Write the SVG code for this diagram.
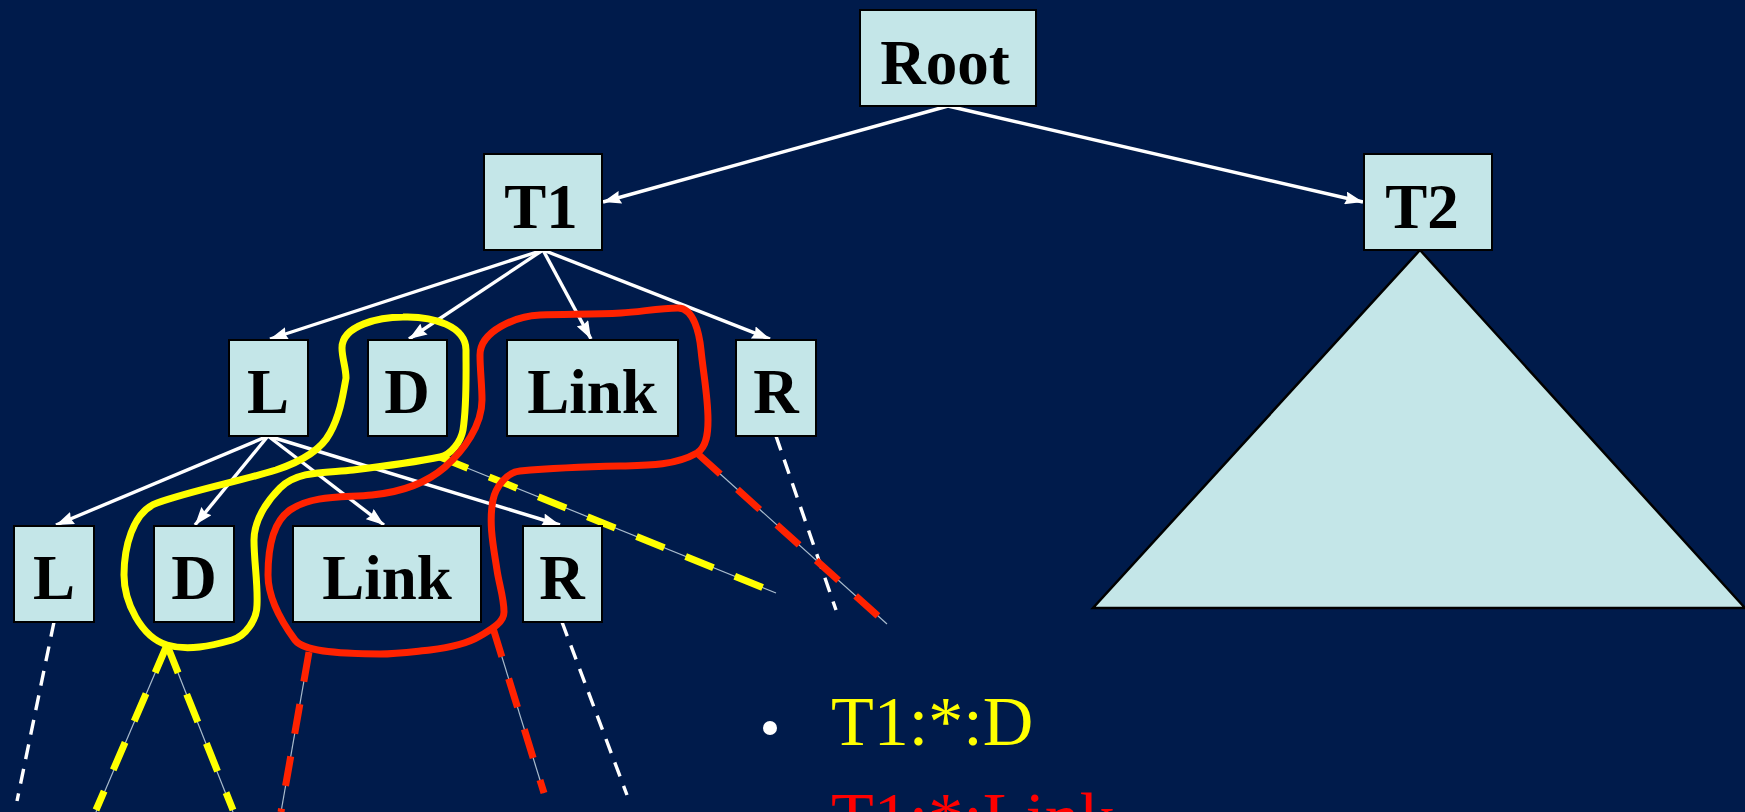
<svg xmlns="http://www.w3.org/2000/svg" width="1745" height="812" viewBox="0 0 1745 812">
  <defs>
    <marker id="arrow" viewBox="0 0 18 13" refX="18" refY="6.5" markerWidth="18" markerHeight="13" markerUnits="userSpaceOnUse" orient="auto">
      <path d="M0,0 L18,6.5 L0,13 L2,6.5 Z" fill="#ffffff"/>
    </marker>
    <style>
      .box { fill: #c4e6e8; stroke: #000000; stroke-width: 2; }
      .lbl { font-family: "Liberation Serif", "Times New Roman", serif; font-weight: bold; font-size: 63px; fill: #000000; text-anchor: middle; }
      .edge { stroke: #ffffff; stroke-width: 3.4; fill: none; marker-end: url(#arrow); }
      .wdash { stroke: #ffffff; stroke-width: 3.4; fill: none; stroke-dasharray: 15 10; }
      .thin { stroke: #a9bccd; stroke-width: 1.2; fill: none; }
      .ydash { stroke: #ffff00; stroke-width: 7; fill: none; stroke-dasharray: 30 23; }
      .rdash { stroke: #ff2200; stroke-width: 7; fill: none; stroke-dasharray: 30 23; }
      .yloop { stroke: #ffff00; stroke-width: 7; fill: none; }
      .rloop { stroke: #ff2200; stroke-width: 7; fill: none; }
      .note { font-family: "Liberation Serif", "Times New Roman", serif; font-size: 70px; }
    </style>
  </defs>

  <rect x="0" y="0" width="1745" height="812" fill="#001b4b"/>

  <!-- subtree below T2 -->
  <polygon id="t2-subtree" points="1420,250 1093,608 1745,608" fill="#c4e6e8" stroke="#000000" stroke-width="2.5"/>

  <!-- tree edges -->
  <g id="connectors">
    <line class="edge" x1="948" y1="106" x2="603" y2="202"/>
    <line class="edge" x1="948" y1="106" x2="1363" y2="202"/>
    <line class="edge" x1="543" y1="250" x2="270" y2="339"/>
    <line class="edge" x1="543" y1="250" x2="409" y2="339"/>
    <line class="edge" x1="543" y1="250" x2="591" y2="339"/>
    <line class="edge" x1="543" y1="250" x2="770" y2="339"/>
    <line class="edge" x1="268" y1="436" x2="56" y2="525"/>
    <line class="edge" x1="268" y1="436" x2="195" y2="525"/>
    <line class="edge" x1="268" y1="436" x2="384" y2="525"/>
    <line class="edge" x1="268" y1="436" x2="560" y2="525"/>

    <!-- open branches continuing below the drawn nodes -->
    <line class="wdash" x1="54" y1="622" x2="17" y2="801"/>
    <line class="wdash" x1="562" y1="622" x2="627" y2="795"/>
    <line class="wdash" x1="776" y1="436" x2="836" y2="610"/>

    <!-- highlighted paths: thin guide under thick dashes -->
    <g id="yellow-paths">
      <line class="thin" x1="167" y1="645" x2="96" y2="812"/>
      <line class="thin" x1="167" y1="645" x2="233" y2="812"/>
      <line class="thin" x1="440" y1="457" x2="776" y2="593"/>
      <line class="ydash" x1="167" y1="645" x2="96" y2="810"/>
      <line class="ydash" x1="167" y1="645" x2="233" y2="810"/>
      <line class="ydash" x1="440" y1="457" x2="776" y2="593"/>
    </g>
    <g id="red-paths">
      <line class="thin" x1="309" y1="652" x2="281" y2="812"/>
      <line class="thin" x1="493" y1="628" x2="544" y2="793"/>
      <line class="thin" x1="698" y1="454" x2="887" y2="624"/>
      <line class="rdash" x1="309" y1="652" x2="281" y2="812"/>
      <line class="rdash" x1="493" y1="628" x2="544" y2="793"/>
      <line class="rdash" x1="698" y1="454" x2="887" y2="624"/>
    </g>
  </g>

  <!-- nodes -->
  <g id="root"><rect class="box" x="860" y="10" width="176" height="96"/><text class="lbl" x="945" y="84">Root</text></g>
  <g id="t1"><rect class="box" x="484" y="154" width="118" height="96"/><text class="lbl" x="541" y="228">T1</text></g>
  <g id="t2"><rect class="box" x="1364" y="154" width="128" height="96"/><text class="lbl" x="1422" y="228">T2</text></g>

  <g id="l2-L"><rect class="box" x="229" y="340" width="79" height="96"/><text class="lbl" x="268" y="413">L</text></g>
  <g id="l2-D"><rect class="box" x="368" y="340" width="79" height="96"/><text class="lbl" x="407" y="413">D</text></g>
  <g id="l2-Link"><rect class="box" x="507" y="340" width="171" height="96"/><text class="lbl" x="592" y="413">Link</text></g>
  <g id="l2-R"><rect class="box" x="736" y="340" width="80" height="96"/><text class="lbl" x="776" y="413">R</text></g>

  <g id="l3-L"><rect class="box" x="14" y="526" width="80" height="96"/><text class="lbl" x="54" y="599">L</text></g>
  <g id="l3-D"><rect class="box" x="154" y="526" width="80" height="96"/><text class="lbl" x="194" y="599">D</text></g>
  <g id="l3-Link"><rect class="box" x="293" y="526" width="188" height="96"/><text class="lbl" x="387" y="599">Link</text></g>
  <g id="l3-R"><rect class="box" x="523" y="526" width="79" height="96"/><text class="lbl" x="562" y="599">R</text></g>

  <!-- selection outlines -->
  <path id="yellow-loop" class="yloop" d="M167,645 C141,637 124,602 124,575 C124,549 132,512 157,503 C196,489.5 237,482 276,470 C297,463 320,452 330,433 C340,415 343,395 346,378 C346,368 342,358 342,348 C342,325 380,317 403,317 C433,316 466,326 466,350 C466,377 467,404 463,430 C461,441.5 451,455 440,457 C411,463 382,466.5 353,470 C328,473 298,470 280,488 C266,502 254,521 254,540 C254,562 258,583 257,605 C257,619 246,636 232,640 C211,646 188,651 167,645 Z"/>
  <path id="red-loop" class="rloop" d="M380,654 C350,654 305,653 295,640 C281,621 268,598 268,575 C268,552 271,523 290,510 C313,494.5 344.5,497.75 372,495 C398,492.4 425.4,484 445,467 C464,450 482,425.5 482,400 C482,385 480,370 480,355 C480,331 516,316 540,315 C567,314 594,314.5 621,313 C640,312 659,308 678,308 C694,308 699.4,334 701,350 C703.3,373 708,397 708,420 C708,432 707,447 697,453 C674,466 646,465.5 620,466 C587,466.7 553,468 520,471 C507,472 495.6,487 493,500 C488.4,523 493.5,547 497,570 C499,584 504,598 504,612 C504,623 490,630 480,636 C465,645 447,648 430,650 C413,651.7 397,654 380,654 Z"/>

  <!-- query patterns -->
  <circle cx="770" cy="728" r="7" fill="#ffffff"/>
  <text class="note" x="831" y="745" fill="#ffff00">T1:*:D</text>
  <text class="note" x="831" y="841" fill="#ff0000">T1:*:Link</text>
</svg>
